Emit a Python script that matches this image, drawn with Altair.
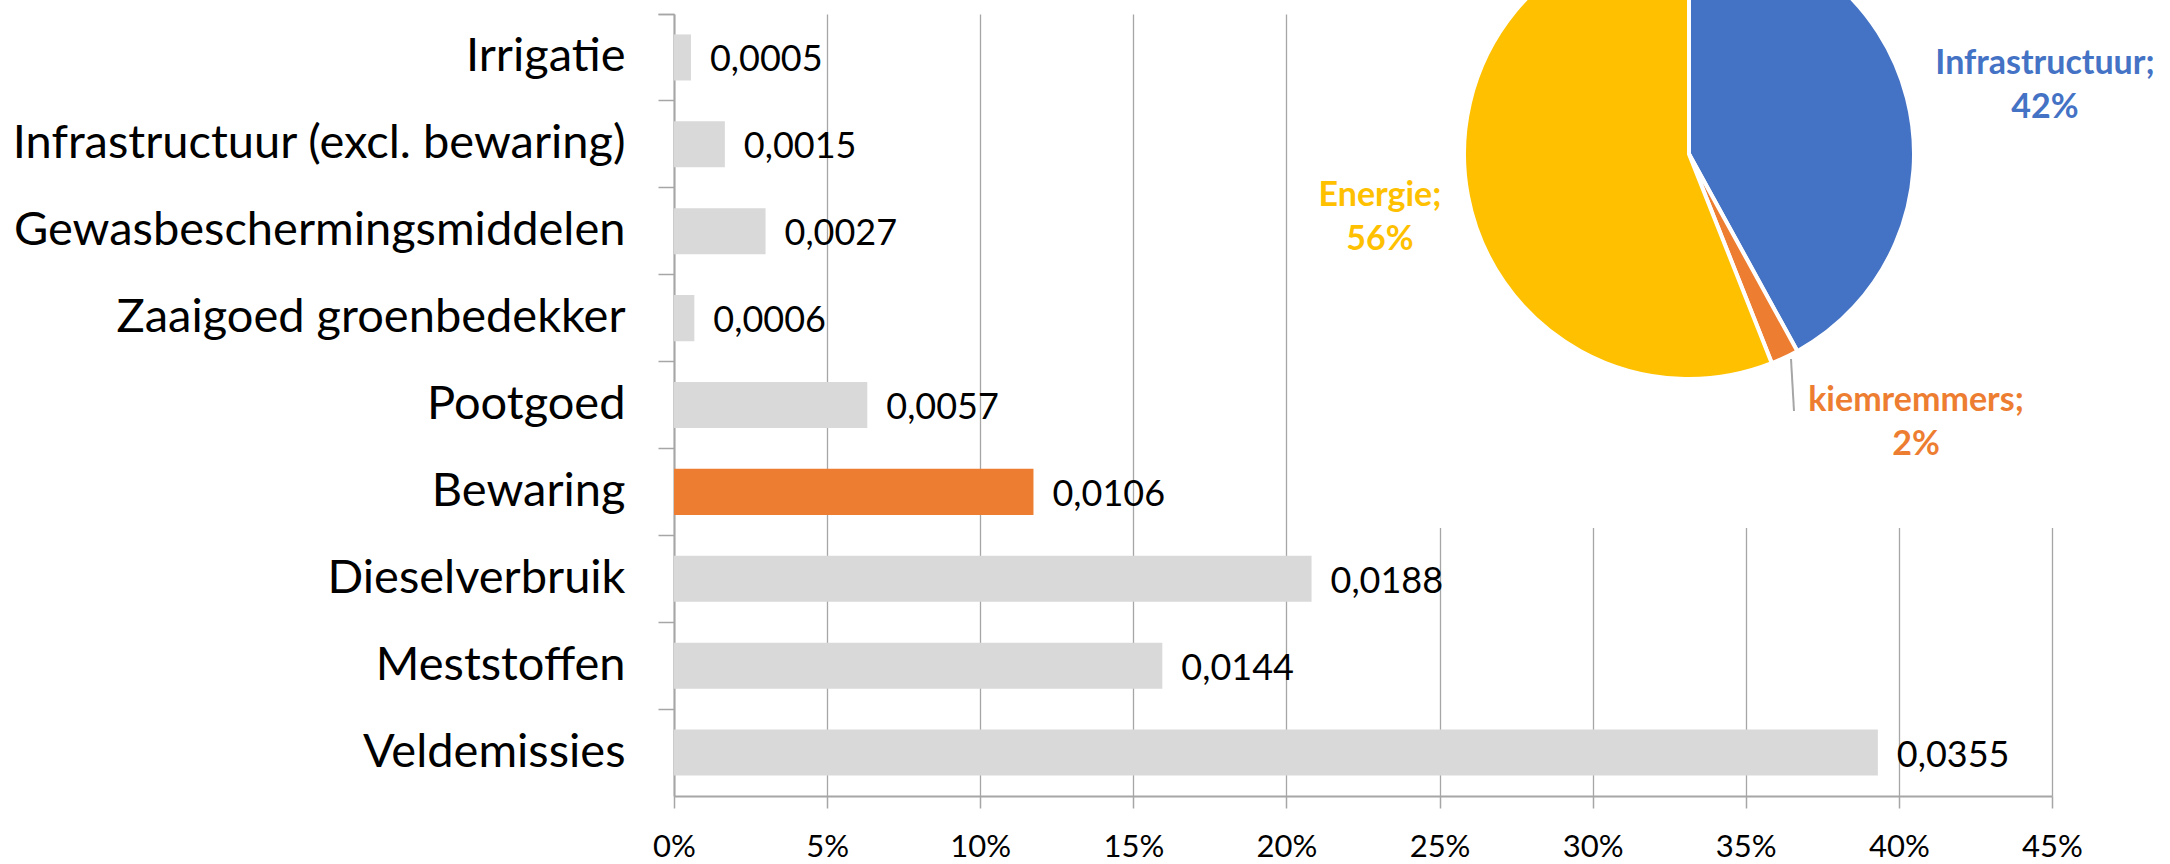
import altair as alt
import pandas as pd

# ---- data ----
categories = [
    "Irrigatie",
    "Infrastructuur (excl. bewaring)",
    "Gewasbeschermingsmiddelen",
    "Zaaigoed groenbedekker",
    "Pootgoed",
    "Bewaring",
    "Dieselverbruik",
    "Meststoffen",
    "Veldemissies",
]
values = [0.0005, 0.0015, 0.0027, 0.0006, 0.0057, 0.0106, 0.0188, 0.0144, 0.0355]
highlight = "Bewaring"
x_ticks = [0, 0.05, 0.10, 0.15, 0.20, 0.25, 0.30, 0.35, 0.40, 0.45]

pie_names = ["Infrastructuur", "kiemremmers", "Energie"]
pie_shares = [42, 2, 56]
pie_colors = ["#4472C4", "#ED7D31", "#FFC000"]

bar_df = pd.DataFrame({"cat": categories, "value": values})
pie_df = pd.DataFrame({"name": pie_names, "share": pie_shares, "order": [0, 1, 2]})
one_df = pd.DataFrame({"k": [0]})

W, H = 1378, 782
FONT = "Lato"
GREY = "#A6A6A6"

base = alt.Chart(bar_df).transform_joinaggregate(
    total="sum(value)"
).transform_calculate(
    share="datum.value / datum.total",
    label="replace(format(datum.value, '.4f'), '.', ',')",
)

x_enc = alt.X(
    "share:Q",
    scale=alt.Scale(domain=[0, 0.45], nice=False),
    axis=alt.Axis(
        values=x_ticks, format=".0%", title=None, grid=True, labelFlush=False,
        gridColor=GREY, gridWidth=1.3, domainColor=GREY, domainWidth=2,
        tickColor=GREY, tickWidth=1.5, tickSize=12,
        labelFont=FONT, labelFontSize=31, labelColor="black", labelPadding=24,
    ),
)
y_enc = alt.Y(
    "cat:N", sort=categories, title=None,
    scale=alt.Scale(paddingInner=0, paddingOuter=0),
    axis=alt.Axis(
        grid=False, domainColor=GREY, domainWidth=2, tickColor=GREY,
        tickWidth=1.5, tickSize=16, bandPosition=0, tickExtra=True,
        labelFont=FONT, labelFontSize=47, labelColor="black",
        labelPadding=33, labelLimit=2000,
    ),
)

bars = base.mark_bar(height=alt.RelativeBandSize(0.53)).encode(
    x=x_enc, y=y_enc,
    color=alt.condition(alt.datum.cat == highlight, alt.value("#ED7D31"), alt.value("#D9D9D9")),
)

texts = base.mark_text(
    align="left", baseline="middle", dx=19, dy=3, font=FONT, fontSize=36, color="black"
).encode(x="share:Q", y=alt.Y("cat:N", sort=categories), text="label:N")

box = alt.Chart(one_df).mark_rect(color="white").encode(
    x=alt.value(626), x2=alt.value(1500), y=alt.value(-14), y2=alt.value(514)
)

pie = alt.Chart(pie_df).mark_arc(radius=225, stroke="white", strokeWidth=4).encode(
    theta=alt.Theta("share:Q", stack=True),
    order=alt.Order("order:Q"),
    color=alt.Color("name:N", scale=alt.Scale(domain=pie_names, range=pie_colors), legend=None),
    x=alt.value(1015), y=alt.value(140),
)

leader = alt.Chart(one_df).mark_rule(color=GREY, strokeWidth=2).encode(
    x=alt.value(1117), y=alt.value(345), x2=alt.value(1120), y2=alt.value(397)
)

def pie_label(name, color, px, py):
    return alt.Chart(pie_df).transform_filter(alt.datum.name == name).transform_calculate(
        txt="datum.name + ';\\n' + datum.share + '%'"
    ).mark_text(
        align="center", baseline="alphabetic", lineBreak="\n", lineHeight=44,
        font=FONT, fontSize=34, fontWeight="bold", color=color,
    ).encode(text="txt:N", x=alt.value(px), y=alt.value(py))

labels = [
    pie_label("Infrastructuur", pie_colors[0], 1371, 60),
    pie_label("kiemremmers", pie_colors[1], 1242, 397),
    pie_label("Energie", pie_colors[2], 706, 192),
]

chart = alt.layer(bars, texts, box, pie, leader, *labels).properties(
    width=W, height=H,
    padding={"left": 674, "top": 14, "right": 118, "bottom": 68},
    autosize=alt.AutoSizeParams(type="none"),
    background="white",
).configure_view(stroke=None)

chart.save("out.html", embed_options={"renderer": "svg", "actions": False})
